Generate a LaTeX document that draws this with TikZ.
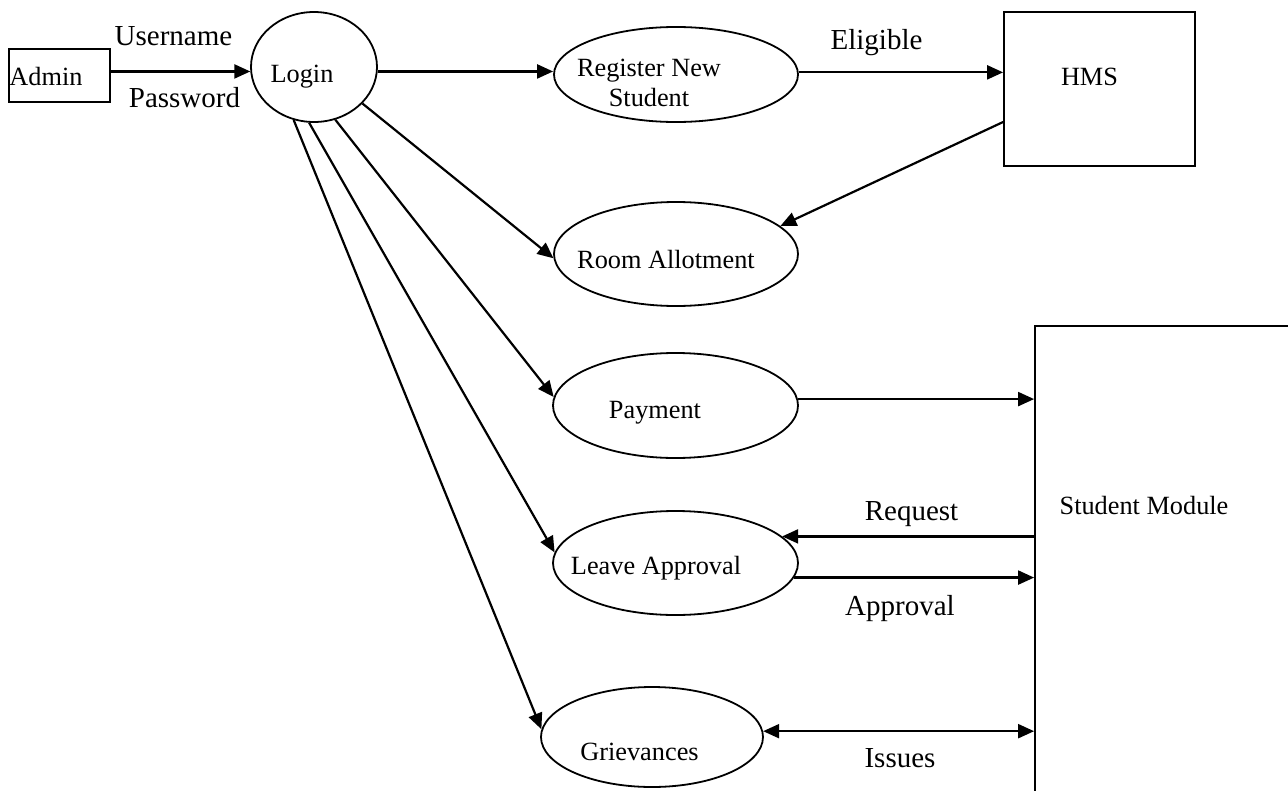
\documentclass[tikz,border=0pt]{standalone}
\usepackage{fontspec}
\setmainfont{Liberation Serif}
\usetikzlibrary{shapes.geometric,arrows.meta}

\tikzset{
  proc/.style={draw, ellipse, line width=1.8pt, inner sep=0pt},
  ent/.style={draw, rectangle, line width=1.8pt, inner sep=0pt},
  txt/.style={anchor=base, inner sep=0pt, font=\fontsize{26.3pt}{30pt}\selectfont},
  lbl/.style={anchor=base, inner sep=0pt, font=\fontsize{29pt}{32pt}\selectfont},
  flow/.style={line width=2.2pt, -{Triangle[length=16pt,width=14pt]}},
  both/.style={line width=2.2pt, {Triangle[length=16pt,width=14pt]}-{Triangle[length=16pt,width=14pt]}},
}

\begin{document}
\begin{tikzpicture}[x=1pt,y=-1pt]
    \useasboundingbox (0,0) rectangle (1288,790);
    \clip (0,0) rectangle (1288,790);

    % external entities
    \node[ent, minimum width=101pt, minimum height=53pt,
          label={[txt, xshift=-13.5pt, yshift=-1.5pt]center:Admin}] (admin) at (59.5,75.5) {};
    \node[ent, minimum width=191pt, minimum height=154pt,
          label={[txt, xshift=-10pt, yshift=12pt]center:HMS}] (hms) at (1099.5,89) {};
    \node[ent, minimum width=265pt, minimum height=474pt,
          label={[txt, xshift=-23.5pt, yshift=58pt]center:Student Module}] (smod) at (1167.5,563) {};

    % processes
    \node[proc, minimum width=126pt, minimum height=110pt,
          label={[txt, xshift=-12pt, yshift=-10pt]center:Login}] (login) at (314,67) {};
    \node[proc, minimum width=244pt, minimum height=95pt,
          label={[txt, anchor=center, align=center, xshift=-27pt, yshift=-8.5pt]center:Register New\\Student}] (reg) at (676,74.5) {};
    \node[proc, minimum width=244pt, minimum height=104pt,
          label={[txt, xshift=-10pt, yshift=-6pt]center:Room Allotment}] (room) at (676,254) {};
    \node[proc, minimum width=245pt, minimum height=105pt,
          label={[txt, xshift=-20.5pt, yshift=-7.5pt]center:Payment}] (pay) at (675.5,405.5) {};
    \node[proc, minimum width=245pt, minimum height=104pt,
          label={[txt, xshift=-19.5pt, yshift=-5pt]center:Leave Approval}] (leave) at (675.5,563) {};
    \node[proc, minimum width=222pt, minimum height=100pt,
          label={[txt, xshift=-12.5pt, yshift=-15pt]center:Grievances}] (griev) at (652,737) {};

    % flows
    \draw[flow] (admin.east |- login.184) -- (login.184);
    \draw[flow] (login.-4) -- (login.-4 -| reg.west);
    \draw[flow] (reg.1) -- (reg.1 -| hms.west);
    \draw[flow] ([yshift=-33pt]hms.west) -- (room.15);

    \draw[flow] (login.-37) -- (room.182);
    \draw[flow] (login.-68) -- (pay.176);
    \draw[flow] (login.-95) -- (leave.175);
    \draw[flow] (login.-111) -- (griev.176);

    \draw[flow] (pay.3.5) -- (pay.3.5 -| smod.west);
    \draw[flow] (leave.14.5 -| smod.west) -- (leave.14.5);
    \draw[flow] (leave.-7) -- (leave.-7 -| smod.west);
    \draw[both] (griev.3.6) -- (griev.3.6 -| smod.west);

    % flow labels
    \node[lbl] (user) at (173.5,45) {Username};
    \node[lbl] (pass) at (184.5,107) {Password};
    \node[lbl] (elig) at (876.5,49) {Eligible};
    \node[lbl] (req) at (911.5,520) {Request};
    \node[lbl] (appr) at (900,615) {Approval};
    \node[lbl] (iss) at (900,767) {Issues};
\end{tikzpicture}
\end{document}
